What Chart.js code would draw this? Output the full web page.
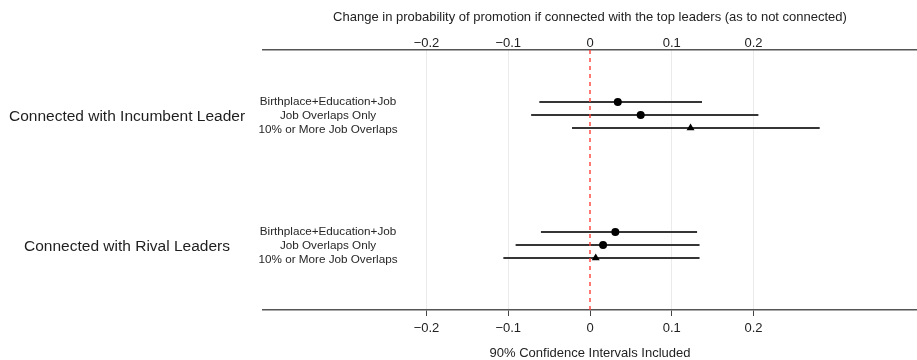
<!DOCTYPE html>
<html>
<head>
<meta charset="utf-8">
<script src="https://cdn.jsdelivr.net/npm/chart.js@4/dist/chart.umd.min.js"></script>
<style>
  html, body { margin: 0; padding: 0; background: #ffffff; }
  #wrap { width: 917px; height: 360px; position: relative; }
</style>
</head>
<body>
<div id="wrap"><canvas id="chart"></canvas></div>
<script>
// Groups of connection type and the three model specifications within each
const groups = ['Connected with Incumbent Leader', 'Connected with Rival Leaders'];
const specs = ['Birthplace+Education+Job', 'Job Overlaps Only', '10% or More Job Overlaps'];
const specMarkers = ['circle', 'circle', 'triangle'];

// Point estimates and 90% confidence bounds
const incumbentEst = [0.034, 0.062, 0.123];
const incumbentLo  = [-0.062, -0.072, -0.022];
const incumbentHi  = [0.137, 0.206, 0.281];

const rivalEst = [0.031, 0.016, 0.007];
const rivalLo  = [-0.060, -0.091, -0.106];
const rivalHi  = [0.131, 0.134, 0.134];

// Axis ticks
const tickValues = [-0.2, -0.1, 0, 0.1, 0.2];
const tickLabels = ['\u22120.2', '\u22120.1', '0', '0.1', '0.2'];

const topTitle = 'Change in probability of promotion if connected with the top leaders (as to not connected)';
const bottomTitle = '90% Confidence Intervals Included';

const FONT = '"Liberation Sans", Arial, Helvetica, sans-serif';
const estimates = [incumbentEst, rivalEst];
const lows = [incumbentLo, rivalLo];
const highs = [incumbentHi, rivalHi];

// vertical slots: each group centred on its own band, specs stacked one unit apart
function groupCenter(g) { return (groups.length - g) * 10 - 5; }
function rowY(g, i) { return groupCenter(g) + 1 - i; }

const datasets = [];

// confidence interval segments
groups.forEach((g, gi) => {
  specs.forEach((s, si) => {
    datasets.push({
      type: 'line',
      data: [{ x: lows[gi][si], y: rowY(gi, si) }, { x: highs[gi][si], y: rowY(gi, si) }],
      borderColor: '#353535',
      borderWidth: 2,
      pointRadius: 0,
      order: 3
    });
  });
});

// zero reference line
datasets.push({
  type: 'line',
  data: [{ x: 0, y: 0 }, { x: 0, y: 20 }],
  borderColor: '#ff4040',
  borderWidth: 1.4,
  borderDash: [4, 4],
  pointRadius: 0,
  order: 2
});

// point estimates
groups.forEach((g, gi) => {
  datasets.push({
    type: 'scatter',
    data: specs.map((s, si) => ({ x: estimates[gi][si], y: rowY(gi, si) })),
    pointStyle: specMarkers,
    pointRadius: specMarkers.map(m => m === 'triangle' ? 4.6 : 4),
    backgroundColor: '#000000',
    borderColor: '#000000',
    borderWidth: 0,
    order: 1
  });
});

// row and group labels drawn beside the intervals
const labelPlugin = {
  id: 'rowLabels',
  afterDatasetsDraw(chart) {
    const ctx = chart.ctx;
    const y = chart.scales.y;
    ctx.save();
    ctx.textAlign = 'center';
    ctx.textBaseline = 'middle';
    ctx.fillStyle = '#1e1e1e';
    ctx.font = '15.5px ' + FONT;
    groups.forEach((g, gi) => {
      ctx.fillText(g, 127, y.getPixelForValue(groupCenter(gi)) + 1.5);
    });
    ctx.fillStyle = '#262626';
    ctx.font = '11.7px ' + FONT;
    groups.forEach((g, gi) => {
      const mid = y.getPixelForValue(groupCenter(gi)) + 0.5;
      specs.forEach((s, si) => {
        ctx.fillText(s, 328, mid + (si - 1) * 14);
      });
    });
    ctx.restore();
  }
};

function fixedTicks(scale) {
  scale.ticks = tickValues.map(v => ({ value: v }));
}
function fitAxis(scale) {
  scale.height = 50;
  scale.paddingLeft = 0;
  scale.paddingRight = 0;
}

new Chart(document.getElementById('chart'), {
  data: { datasets },
  plugins: [labelPlugin],
  options: {
    responsive: true,
    maintainAspectRatio: false,
    animation: false,
    layout: { autoPadding: false, padding: { left: 263, right: 0, top: 0, bottom: 0 } },
    plugins: { legend: { display: false }, tooltip: { enabled: false } },
    scales: {
      x: {
        type: 'linear',
        position: 'bottom',
        min: -0.4,
        max: 0.4,
        afterBuildTicks: fixedTicks,
        afterFit: fitAxis,
        grid: {
          color: ctx => (ctx.tick && ctx.tick.value === 0) ? 'rgba(0,0,0,0)' : '#ebebeb',
          lineWidth: 1,
          tickColor: '#444444',
          tickLength: 6,
          drawTicks: true
        },
        border: { color: '#555555', width: 1.5 },
        ticks: {
          padding: 5,
          color: '#222222',
          font: { family: FONT, size: 13 },
          maxRotation: 0,
          callback: (v) => tickLabels[tickValues.findIndex(t => Math.abs(t - v) < 1e-9)]
        },
        title: {
          display: true,
          text: bottomTitle,
          color: '#222222',
          font: { family: FONT, size: 13, lineHeight: 1.0 },
          padding: { top: 0, bottom: 0 }
        }
      },
      x2: {
        type: 'linear',
        position: 'top',
        min: -0.4,
        max: 0.4,
        afterBuildTicks: fixedTicks,
        afterFit: fitAxis,
        grid: { drawOnChartArea: false, drawTicks: false },
        border: { color: '#555555', width: 1.5 },
        ticks: {
          padding: -1,
          color: '#222222',
          font: { family: FONT, size: 13 },
          maxRotation: 0,
          callback: (v) => tickLabels[tickValues.findIndex(t => Math.abs(t - v) < 1e-9)]
        },
        title: {
          display: true,
          text: topTitle,
          color: '#222222',
          font: { family: FONT, size: 13 },
          padding: { top: 10, bottom: 0 }
        }
      },
      y: {
        type: 'linear',
        display: false,
        min: 0,
        max: 20
      }
    }
  }
});
</script>
</body>
</html>
